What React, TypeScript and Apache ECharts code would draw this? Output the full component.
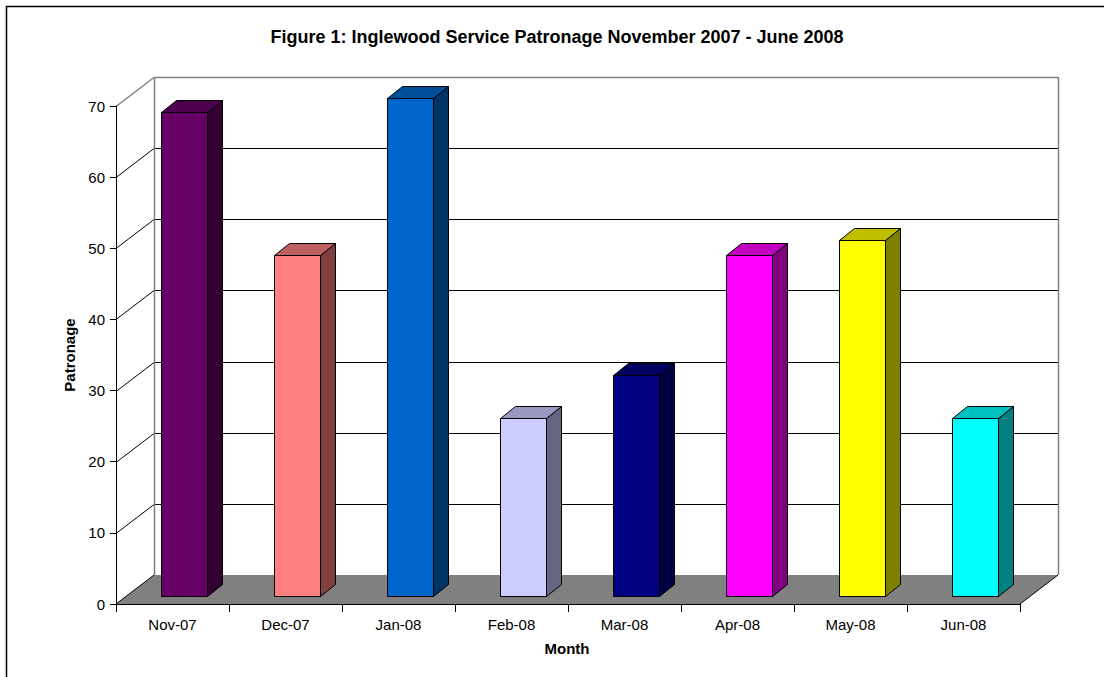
import React, { useEffect, useRef } from "react";
import * as echarts from "echarts";

const months = ["Nov-07", "Dec-07", "Jan-08", "Feb-08", "Mar-08", "Apr-08", "May-08", "Jun-08"];
const patronage = [68, 48, 70, 25, 31, 48, 50, 25];
const yTicks = [0, 10, 20, 30, 40, 50, 60, 70];
const frontColors = ["#660066", "#FF8080", "#0066CC", "#CCCCFF", "#000080", "#FF00FF", "#FFFF00", "#00FFFF"];
const sideColors = ["#330033", "#804040", "#003366", "#666680", "#000040", "#800080", "#808000", "#008080"];
const topColors = ["#4D004D", "#BF6060", "#004D99", "#9999BF", "#000060", "#BF00BF", "#BFBF00", "#00BFBF"];

const titleText = "Figure 1: Inglewood Service Patronage November 2007 - June 2008";
const FONT = "Arial, 'Liberation Sans', sans-serif";

// 3D depth geometry (px)
const DX = 38;
const DY = 29;
const FX = 11.5;
const FY = 8;
const SDX = 15;
const SDY = 12;

export default function App() {
  const ref = useRef<HTMLDivElement>(null);
  useEffect(() => {
    if (!ref.current) return;
    const chart = echarts.init(ref.current, null, { renderer: "svg" });
    const yMax = yTicks[yTicks.length - 1];

    const wallsRender = (params: any, api: any) => {
      const cs = params.coordSys;
      const x0 = cs.x;
      const x1 = cs.x + cs.width;
      const yb = cs.y + cs.height;
      const yTop = api.coord([0, yMax])[1];
      const children: any[] = [];
      children.push({
        type: "rect",
        shape: { x: x0 + DX, y: yTop - DY, width: cs.width, height: yb - yTop },
        style: { fill: "#FFFFFF" },
      });
      children.push({
        type: "polygon",
        shape: { points: [[x0, yb], [x1, yb], [x1 + DX, yb - DY], [x0 + DX, yb - DY]] },
        style: { fill: "#808080" },
      });
      yTicks.forEach((v) => {
        if (v === 0) return;
        const y = Math.round(api.coord([0, v])[1]) + 0.5;
        const col = v === yMax ? "#808080" : "#000000";
        const lw = v === yMax ? 1.5 : 1;
        children.push({
          type: "line",
          shape: { x1: x0 + DX, y1: y - DY, x2: x1 + DX, y2: y - DY },
          style: { stroke: col, lineWidth: lw },
        });
        children.push({
          type: "line",
          shape: { x1: x0, y1: y, x2: x0 + DX, y2: y - DY },
          style: { stroke: col, lineWidth: lw },
        });
      });
      [x0 + DX, x1 + DX].forEach((x) => {
        children.push({
          type: "line",
          shape: { x1: Math.round(x) + 0.5, y1: yTop - DY, x2: Math.round(x) + 0.5, y2: yb - DY },
          style: { stroke: "#808080", lineWidth: 1.5 },
        });
      });
      [x0, x1].forEach((x) => {
        children.push({
          type: "line",
          shape: { x1: x, y1: yb, x2: x + DX, y2: yb - DY },
          style: { stroke: "#000000", lineWidth: 1 },
        });
      });
      return { type: "group", children };
    };

    const barsRender = (params: any, api: any) => {
      const idx = api.value(0);
      const val = api.value(1);
      const pTop = api.coord([idx, val]);
      const pBot = api.coord([idx, 0]);
      const bw = api.size([1, 0])[0] * 0.405;
      const left = Math.round(pTop[0] + FX - bw / 2) + 0.5;
      const right = left + Math.round(bw);
      const top = Math.round(pTop[1] - FY) + 0.5;
      const bottom = Math.round(pBot[1] - FY) + 0.5;
      const st = { stroke: "#000000", lineWidth: 1, lineJoin: "miter" };
      return {
        type: "group",
        children: [
          {
            type: "polygon",
            shape: { points: [[right, top], [right + SDX, top - SDY], [right + SDX, bottom - SDY], [right, bottom]] },
            style: { ...st, fill: sideColors[idx] },
          },
          {
            type: "polygon",
            shape: { points: [[left, top], [left + SDX, top - SDY], [right + SDX, top - SDY], [right, top]] },
            style: { ...st, fill: topColors[idx] },
          },
          {
            type: "rect",
            shape: { x: left, y: top, width: right - left, height: bottom - top },
            style: { ...st, fill: frontColors[idx] },
          },
        ],
      };
    };

    chart.setOption({
      animation: false,
      backgroundColor: "#FFFFFF",
      grid: { left: 116, right: 84, top: 106, bottom: 73, containLabel: false },
      xAxis: {
        type: "category",
        data: months,
        boundaryGap: true,
        axisLine: { show: true, lineStyle: { color: "#000000", width: 1 } },
        axisTick: { show: true, length: 8, lineStyle: { color: "#000000" } },
        axisLabel: { color: "#000000", fontSize: 15, fontFamily: FONT, margin: 13, interval: 0 },
        splitLine: { show: false },
        z: 5,
      },
      yAxis: {
        type: "value",
        min: 0,
        max: 70,
        interval: 10,
        axisLine: { show: true, lineStyle: { color: "#000000", width: 1 } },
        axisTick: { show: true, length: 6, lineStyle: { color: "#000000" } },
        axisLabel: { color: "#000000", fontSize: 15, fontFamily: FONT, margin: 11 },
        splitLine: { show: false },
        z: 5,
      },
      graphic: [
        {
          type: "rect",
          shape: { x: 6.5, y: 6.5, width: 1200, height: 800 },
          style: { fill: "none", stroke: "#000000", lineWidth: 1.5 },
          silent: true,
        },
        {
          type: "text",
          x: 557,
          y: 37,
          style: {
            text: titleText,
            font: `bold 18px ${FONT}`,
            fill: "#000000",
            textAlign: "center",
            textVerticalAlign: "middle",
          },
        },
        {
          type: "text",
          x: 69,
          y: 355,
          rotation: Math.PI / 2,
          style: {
            text: "Patronage",
            font: `bold 15px ${FONT}`,
            fill: "#000000",
            textAlign: "center",
            textVerticalAlign: "middle",
          },
        },
        {
          type: "text",
          x: 567,
          y: 648,
          style: {
            text: "Month",
            font: `bold 15px ${FONT}`,
            fill: "#000000",
            textAlign: "center",
            textVerticalAlign: "middle",
          },
        },
      ],
      series: [
        {
          type: "custom",
          name: "walls",
          renderItem: wallsRender,
          data: [[0, 0]],
          z: 1,
          silent: true,
        },
        {
          type: "custom",
          name: "Patronage",
          renderItem: barsRender,
          data: patronage.map((v, i) => [i, v]),
          z: 3,
        },
      ],
    });
    return () => chart.dispose();
  }, []);
  return (
    <div
      ref={ref}
      style={{ position: "fixed", left: 0, top: 0, width: 1104, height: 677, background: "#fff" }}
    />
  );
}
